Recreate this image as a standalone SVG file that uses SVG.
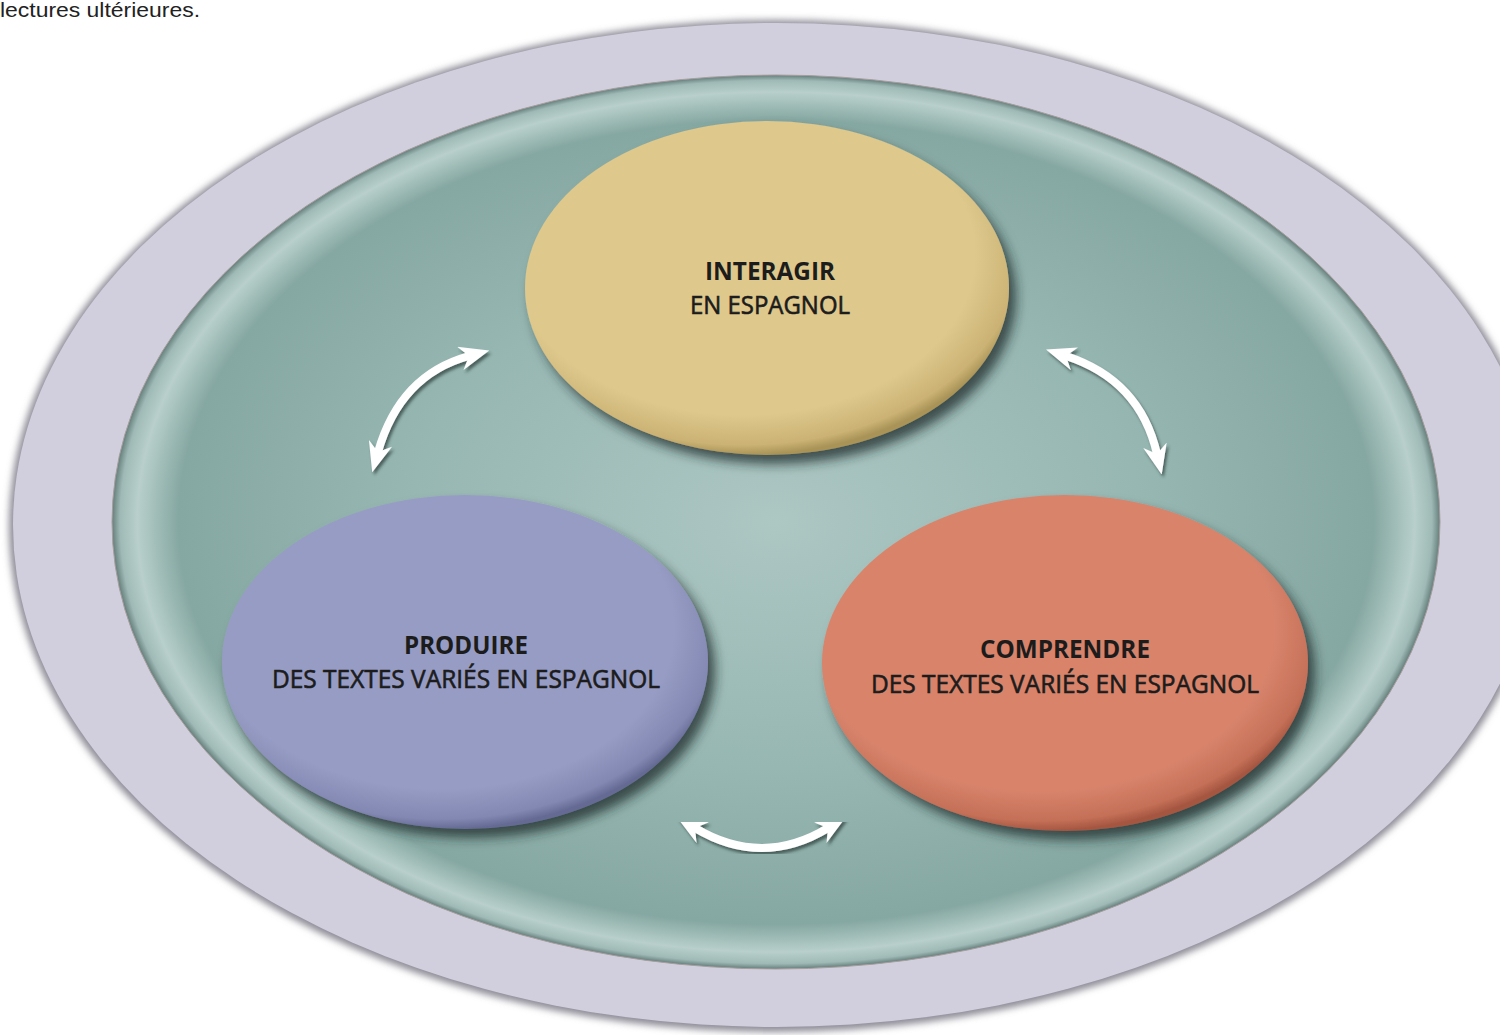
<svg xmlns="http://www.w3.org/2000/svg" width="1500" height="1035" viewBox="0 0 1500 1035">
<style>
.t1{font-family:"Open Sans","Liberation Sans",sans-serif;font-weight:700;font-size:25px;fill:#1c1c1c;text-anchor:middle}
.t2{font-family:"Open Sans","Liberation Sans",sans-serif;font-weight:400;font-size:25px;fill:#1c1c1c;stroke:#1c1c1c;stroke-width:0.6;text-anchor:middle}
.arr{fill:none;stroke:#ffffff;stroke-width:8;stroke-linecap:round;marker-start:url(#head);marker-end:url(#head);filter:url(#ash)}
</style>
<defs>
<radialGradient id="teal" cx="50%" cy="50%" r="50%">
<stop offset="0" stop-color="#adc7c3"/>
<stop offset="0.55" stop-color="#97b7b2"/>
<stop offset="0.9" stop-color="#86a8a2"/>
<stop offset="0.962" stop-color="#b8cfcb"/>
<stop offset="0.988" stop-color="#9fbab6"/>
<stop offset="1" stop-color="#657e7b"/>
</radialGradient>
<radialGradient id="gy" cx="45%" cy="40%" r="60%">
<stop offset="0.8" stop-color="#dec88c"/>
<stop offset="0.95" stop-color="#cbb274"/>
<stop offset="1" stop-color="#a99357"/>
</radialGradient>
<radialGradient id="gb" cx="45%" cy="40%" r="60%">
<stop offset="0.8" stop-color="#979cc4"/>
<stop offset="0.95" stop-color="#8288b2"/>
<stop offset="1" stop-color="#656b94"/>
</radialGradient>
<radialGradient id="go" cx="45%" cy="40%" r="60%">
<stop offset="0.8" stop-color="#d8836b"/>
<stop offset="0.95" stop-color="#c46f57"/>
<stop offset="1" stop-color="#a55641"/>
</radialGradient>
<filter id="sh" x="-10%" y="-10%" width="125%" height="130%">
<feDropShadow dx="7" dy="9" stdDeviation="6" flood-color="#1e2a28" flood-opacity="0.75"/>
</filter>
<filter id="blur" x="-5%" y="-5%" width="110%" height="110%">
<feGaussianBlur stdDeviation="3.5"/>
</filter>
<filter id="ash" x="-30%" y="-30%" width="160%" height="160%">
<feDropShadow dx="2" dy="3" stdDeviation="1.5" flood-color="#2a3a38" flood-opacity="0.7"/>
</filter>
<marker id="head" viewBox="0 0 20 16" refX="6" refY="8" markerWidth="30" markerHeight="24" markerUnits="userSpaceOnUse" orient="auto-start-reverse">
<path d="M0,0 L20,8 L0,16 L6,8 z" fill="#ffffff"/>
</marker>
</defs>
<rect width="1500" height="1035" fill="#ffffff"/>
<text x="0" y="17" font-family="'Liberation Sans',sans-serif" font-size="21" fill="#222" textLength="200" lengthAdjust="spacingAndGlyphs">lectures ultérieures.</text>
<g id="frame">
<ellipse cx="776" cy="526" rx="767" ry="506" fill="#8e8c96" filter="url(#blur)"/>
<ellipse cx="776" cy="525" rx="763" ry="502" fill="#d1cfdd"/>
<ellipse cx="776" cy="522" rx="664" ry="447" fill="url(#teal)" stroke="#a79e9e" stroke-width="1"/>
</g>
<g id="connectors">
<path class="arr" d="M378 452 Q400 375 469 356"/>
<path class="arr" d="M1066 356 Q1140 380 1157 454"/>
<path class="arr" d="M695 828 Q762 868 828 828"/>
</g>
<g id="interagir">
<ellipse cx="767" cy="288" rx="242" ry="167" fill="url(#gy)" filter="url(#sh)"/>
<text class="t1" x="770" y="280" textLength="130" lengthAdjust="spacingAndGlyphs">INTERAGIR</text>
<text class="t2" x="770" y="314" textLength="160" lengthAdjust="spacingAndGlyphs">EN ESPAGNOL</text>
</g>
<g id="produire">
<ellipse cx="465" cy="662" rx="243" ry="167" fill="url(#gb)" filter="url(#sh)"/>
<text class="t1" x="466" y="654" textLength="124" lengthAdjust="spacingAndGlyphs">PRODUIRE</text>
<text class="t2" x="466" y="688" textLength="388" lengthAdjust="spacingAndGlyphs">DES TEXTES VARIÉS EN ESPAGNOL</text>
</g>
<g id="comprendre">
<ellipse cx="1065" cy="663" rx="243" ry="168" fill="url(#go)" filter="url(#sh)"/>
<text class="t1" x="1065" y="658" textLength="170" lengthAdjust="spacingAndGlyphs">COMPRENDRE</text>
<text class="t2" x="1065" y="693" textLength="388" lengthAdjust="spacingAndGlyphs">DES TEXTES VARIÉS EN ESPAGNOL</text>
</g>
</svg>
